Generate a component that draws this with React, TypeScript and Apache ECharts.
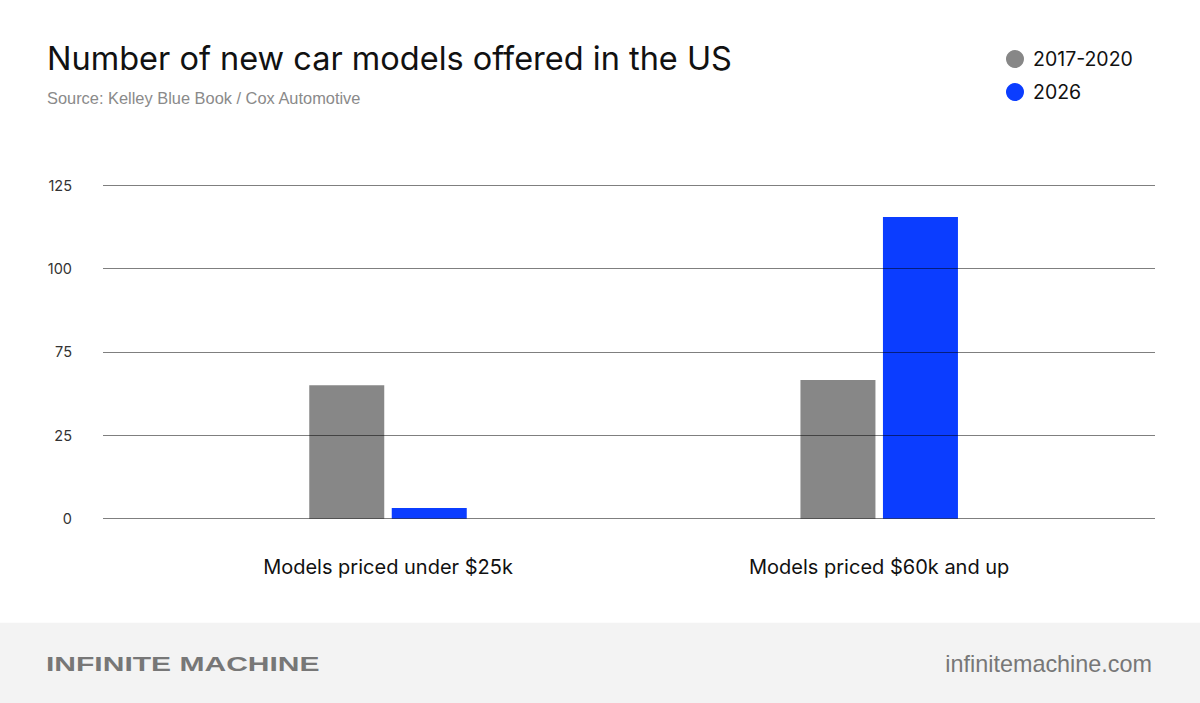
import React, { useEffect, useRef } from "react";
import * as echarts from "echarts";

// Chart data
const categories = ["Models priced under $25k", "Models priced $60k and up"];
const seriesNames = ["2017-2020", "2026"];
const values2017to2020 = [50, 52];
const values2026 = [4, 113];
// Labels printed next to the five horizontal rules, bottom to top
const yTickLabels = ["0", "25", "75", "100", "125"];

const Y_MAX = 125;
const Y_STEP = Y_MAX / (yTickLabels.length - 1);

const GRAY = "#878787";
const BLUE = "#0B3DFF";

export default function App() {
  const ref = useRef<HTMLDivElement>(null);

  useEffect(() => {
    if (!ref.current) return;
    const chart = echarts.init(ref.current, undefined, { renderer: "svg" });
    const top = 185;
    const bottom = 184.3;
    chart.setOption({
      animation: false,
      backgroundColor: "#ffffff",
      textStyle: { fontFamily: "Inter" },
      legend: {
        orient: "vertical",
        left: 1001,
        top: 44,
        icon: "circle",
        itemWidth: 18,
        itemHeight: 18,
        itemGap: 13,
        data: seriesNames,
        textStyle: {
          fontFamily: "Inter",
          fontSize: 19.5,
          color: "#111111",
          padding: [0, 0, 0, 4],
        },
      },
      grid: [
        { left: 103, right: 45, top, bottom },
        { left: 142.4, right: 75.2, top, bottom },
      ],
      xAxis: [
        {
          gridIndex: 0,
          type: "category",
          data: categories,
          show: false,
        },
        {
          gridIndex: 1,
          type: "category",
          data: categories,
          axisLine: { show: false },
          axisTick: { show: false },
          axisLabel: {
            margin: 38,
            fontFamily: "Inter",
            fontSize: 20,
            color: "#111111",
          },
        },
      ],
      yAxis: [
        {
          gridIndex: 0,
          type: "value",
          min: 0,
          max: Y_MAX,
          interval: Y_STEP,
          z: 10,
          axisLine: { show: false },
          axisTick: { show: false },
          axisLabel: {
            margin: 31,
            fontFamily: "Inter",
            fontSize: 14.5,
            color: "#333333",
            formatter: (v: number) => yTickLabels[Math.round(v / Y_STEP)] ?? "",
          },
          splitLine: { show: true, lineStyle: { color: "rgba(0,0,0,0.5)", width: 1 } },
        },
        {
          gridIndex: 1,
          type: "value",
          min: 0,
          max: Y_MAX,
          interval: Y_STEP,
          show: false,
          splitLine: { show: false },
        },
      ],
      series: [
        {
          name: seriesNames[0],
          type: "bar",
          xAxisIndex: 1,
          yAxisIndex: 1,
          data: values2017to2020,
          barWidth: 75,
          barGap: "10%",
          itemStyle: { color: GRAY },
        },
        {
          name: seriesNames[1],
          type: "bar",
          xAxisIndex: 1,
          yAxisIndex: 1,
          data: values2026,
          barWidth: 75,
          barGap: "10%",
          itemStyle: { color: BLUE },
        },
      ],
      graphic: [
        {
          type: "text",
          left: 47,
          top: 41.5,
          style: {
            text: "Number of new car models offered in the US",
            fontFamily: "Inter",
            fontSize: 32.5,
            fill: "#111111",
          },
        },
        {
          type: "text",
          left: 47,
          top: 90,
          style: {
            text: "Source: Kelley Blue Book / Cox Automotive",
            fontFamily: "Liberation Sans",
            fontSize: 16.4,
            fill: "#8a8a8a",
          },
        },
        {
          type: "rect",
          left: 0,
          top: 622.7,
          shape: { width: 1200, height: 81 },
          style: { fill: "#f3f3f3" },
          z: -1,
        },
        {
          type: "text",
          x: 46,
          y: 663.5,
          scaleX: 1.43,
          style: {
            text: "INFINITE MACHINE",
            fontFamily: "Liberation Sans",
            fontWeight: "bold",
            fontSize: 21,
            fill: "#777777",
            verticalAlign: "middle",
          },
        },
        {
          type: "text",
          x: 1152,
          y: 663.5,
          style: {
            text: "infinitemachine.com",
            fontFamily: "Liberation Sans",
            fontSize: 23.4,
            fill: "#777777",
            align: "right",
            verticalAlign: "middle",
          },
        },
      ],
    });
    return () => chart.dispose();
  }, []);

  return <div ref={ref} style={{ position: "fixed", left: 0, top: 0, width: 1200, height: 703 }} />;
}
